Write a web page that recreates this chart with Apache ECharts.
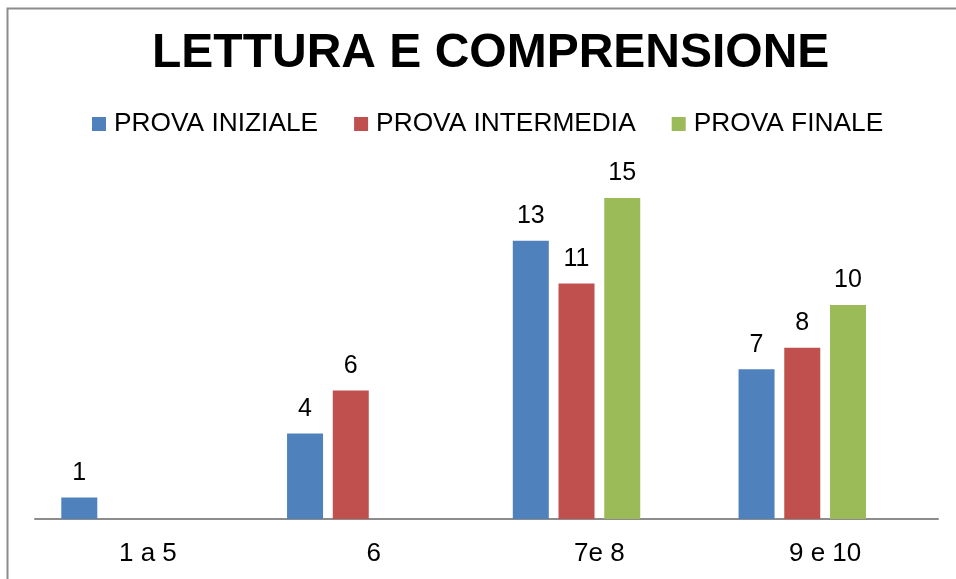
<!DOCTYPE html>
<html>
<head>
<meta charset="utf-8">
<script src="https://cdn.jsdelivr.net/npm/echarts@6/dist/echarts.min.js"></script>
<style>
  html, body { margin: 0; padding: 0; background: #fff; }
  #m1 { width: 956px; height: 579px; }
</style>
</head>
<body>
<div id="m1"></div>
<script>
var categories = ['1 a 5', '6', '7e 8', '9 e 10'];
var seriesNames = ['PROVA INIZIALE', 'PROVA INTERMEDIA', 'PROVA FINALE'];
var provaIniziale = [1, 4, 13, 7];
var provaIntermedia = [null, 6, 11, 8];
var provaFinale = [null, null, 15, 10];
var colors = ['#4F81BD', '#C0504D', '#9BBB59'];

function initBar() {
    var myChart = echarts.init(document.getElementById('m1'));
    var font = '"Liberation Sans", Arial, sans-serif';

    var values = [provaIniziale, provaIntermedia, provaFinale];
    var series = [];
    for (var i = 0; i < seriesNames.length; i++) {
        series.push({
            name: seriesNames[i],
            type: 'bar',
            data: values[i],
            barWidth: 36,
            barGap: '27%',
            itemStyle: { color: colors[i] },
            label: {
                show: true,
                position: 'top',
                distance: 12,
                color: '#000',
                fontSize: 25,
                fontFamily: font
            }
        });
    }
    // serie vuota: in Excel occupa comunque il suo posto nel gruppo
    series.push({ name: 'vuota', type: 'bar', data: [null, null, null, null], barWidth: 36 });

    var option = {
        animation: false,
        backgroundColor: '#fff',
        title: {
            text: 'LETTURA E COMPRENSIONE',
            left: 152,
            top: 30,
            padding: 0,
            textStyle: { fontSize: 48, fontWeight: 'bold', color: '#000', fontFamily: font }
        },
        legend: {
            data: seriesNames,
            left: 92,
            top: 111,
            padding: 0,
            icon: 'rect',
            itemWidth: 14,
            itemHeight: 14,
            itemGap: 36,
            textStyle: { fontSize: 26.3, color: '#000', fontFamily: font, padding: [0, 0, 0, 3] }
        },
        grid: { left: 35, right: 18, top: 198, bottom: 60, containLabel: false },
        xAxis: {
            type: 'category',
            data: categories,
            axisLine: { lineStyle: { color: '#8c8c8c', width: 2 } },
            axisTick: { show: false },
            axisLabel: { color: '#000', fontSize: 26, margin: 22, fontFamily: font }
        },
        yAxis: {
            type: 'value',
            min: 0,
            max: 15,
            show: false,
            splitLine: { show: false }
        },
        graphic: [{
            type: 'rect',
            left: 5,
            top: 6,
            shape: { width: 1000, height: 1000 },
            style: { fill: 'none', stroke: '#8c8c8c', lineWidth: 2 },
            silent: true
        }],
        series: series
    };

    myChart.setOption(option);
    window.addEventListener('resize', function () {
        myChart.resize();
    });
}

initBar();
</script>
</body>
</html>
